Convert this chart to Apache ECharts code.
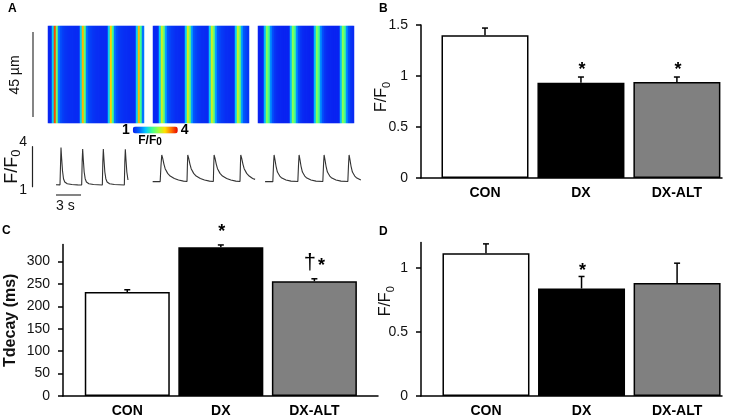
<!DOCTYPE html>
<html>
<head>
<meta charset="utf-8">
<script src="https://cdn.jsdelivr.net/npm/echarts@6/dist/echarts.min.js"></script>
<style>
  html, body { margin: 0; padding: 0; background: #fff; }
  #chart { width: 744px; height: 418px; }
</style>
</head>
<body>
<div id="chart"></div>
<script>
// groups and bar values (mean, SEM, significance marks)
var groups = ['CON', 'DX', 'DX-ALT'];
var barColors = ['#ffffff', '#000000', '#808080'];

var ampB = [1.40, 0.935, 0.94];
var ampBErr = [0.07, 0.055, 0.05];
var ampBSig = ['', '*', '*'];

var decayC = [232, 332, 256];
var decayCErr = [5, 5, 5.5];
var decayCSig = ['', '*', '†*'];

var ampD = [1.117, 0.841, 0.883];
var ampDErr = [0.073, 0.094, 0.156];
var ampDSig = ['', '*', ''];

// line-scan images: F/F0 across time (one value per column)
var scanCon = [1.05, 1.08, 1.9, 3.7, 2.5, 1.55, 1.3, 1.2, 1.15, 1.12, 1.1, 1.1, 1.1, 1.08, 1.08, 1.08,
  1.9, 3.3, 2.4, 1.5, 1.3, 1.2, 1.15, 1.12, 1.1, 1.1, 1.08, 1.08, 1.08, 1.08,
  1.9, 3.2, 2.3, 1.5, 1.3, 1.2, 1.15, 1.12, 1.1, 1.1, 1.08, 1.08, 1.08, 1.08,
  1.9, 3.3, 2.3, 1.5];
var scanDx = [1.05, 1.05, 1.08, 1.9, 2.9, 2.5, 1.7, 1.35, 1.25, 1.18, 1.14, 1.1, 1.1, 1.08, 1.08, 1.08,
  1.9, 3.0, 2.5, 1.7, 1.35, 1.25, 1.18, 1.14, 1.1, 1.1, 1.08, 1.08,
  1.9, 2.9, 2.5, 1.7, 1.35, 1.25, 1.18, 1.14, 1.1, 1.1, 1.08, 1.08, 1.08,
  1.9, 2.9, 2.5, 1.7, 1.35, 1.25, 1.15];
var scanAlt = [1.03, 1.03, 1.05, 1.8, 2.6, 2.3, 1.6, 1.3, 1.15, 1.08, 1.05, 1.05, 1.03, 1.03, 1.03, 1.03,
  1.8, 2.6, 2.3, 1.6, 1.3, 1.15, 1.08, 1.05, 1.05, 1.03, 1.03, 1.03,
  1.8, 2.6, 2.3, 1.6, 1.3, 1.15, 1.08, 1.05, 1.05, 1.03, 1.03, 1.03, 1.03,
  1.8, 2.6, 2.3, 1.6, 1.3, 1.15, 1.08];

// Ca transients, [time (s), F/F0]
var traceCon = [[0, 1.15], [0.48, 1.14], [0.55, 2.8], [0.6, 3.93], [0.68, 3.1], [0.78, 2.2], [0.9, 1.6], [1.05, 1.35], [1.35, 1.22], [1.9, 1.16], [2.6, 1.14], [3.08, 1.13],
  [3.14, 2.9], [3.2, 3.82], [3.28, 3.0], [3.38, 2.1], [3.5, 1.6], [3.65, 1.35], [3.95, 1.22], [4.5, 1.16], [5.56, 1.13],
  [5.62, 2.9], [5.68, 3.82], [5.76, 3.0], [5.86, 2.1], [5.98, 1.6], [6.13, 1.35], [6.43, 1.22], [7.0, 1.16], [8.2, 1.13],
  [8.26, 2.9], [8.32, 3.8], [8.4, 3.0], [8.5, 2.1], [8.64, 1.5]];
var traceDx = [[11.6, 1.38], [12.5, 1.38], [12.6, 2.6], [12.69, 3.38], [12.8, 3.15], [12.95, 2.7], [13.1, 2.35], [13.4, 2.0], [13.7, 1.8], [14.2, 1.62], [14.7, 1.5], [15.3, 1.42], [15.72, 1.39],
  [15.77, 2.6], [15.81, 3.38], [15.92, 3.15], [16.07, 2.7], [16.22, 2.35], [16.52, 2.0], [16.82, 1.8], [17.32, 1.62], [17.82, 1.5], [18.42, 1.42], [18.88, 1.39],
  [18.93, 2.6], [18.97, 3.38], [19.08, 3.15], [19.23, 2.7], [19.38, 2.35], [19.68, 2.0], [19.98, 1.8], [20.48, 1.62], [20.98, 1.5], [21.58, 1.42], [22.08, 1.39],
  [22.13, 2.6], [22.17, 3.38], [22.28, 3.15], [22.43, 2.7], [22.58, 2.35], [22.88, 2.0], [23.18, 1.8], [23.6, 1.62], [23.89, 1.55]];
var traceAlt = [[25.09, 1.38], [26.02, 1.38], [26.1, 2.6], [26.17, 3.38], [26.27, 3.05], [26.4, 2.55], [26.57, 2.1], [26.85, 1.8], [27.1, 1.65], [27.6, 1.5], [28.2, 1.42], [29.02, 1.39],
  [29.1, 2.6], [29.17, 3.38], [29.27, 3.05], [29.4, 2.55], [29.57, 2.1], [29.85, 1.8], [30.1, 1.65], [30.6, 1.5], [31.2, 1.42], [32.02, 1.39],
  [32.1, 2.6], [32.17, 3.38], [32.27, 3.05], [32.4, 2.55], [32.57, 2.1], [32.85, 1.8], [33.1, 1.65], [33.6, 1.5], [34.2, 1.42], [35.02, 1.39],
  [35.1, 2.6], [35.17, 3.38], [35.27, 3.05], [35.4, 2.55], [35.57, 2.1], [35.85, 1.8], [36.1, 1.65], [36.58, 1.5]];

var FONT = '"Liberation Sans", Arial, Helvetica, sans-serif';
var chart = echarts.init(document.getElementById('chart'));

var subRich = function (big, small) {
  return {
    f: { fontSize: big, fontFamily: FONT, color: '#111' },
    s: { fontSize: small, fontFamily: FONT, color: '#111', verticalAlign: 'bottom', padding: [0, 0, -2, 0] }
  };
};

function barX(gi, min, max, margin) {
  return {
    gridIndex: gi, type: 'value', min: min, max: max,
    splitLine: { show: false },
    axisLine: { show: true, onZero: false, lineStyle: { color: '#000', width: 1.5 } },
    axisTick: { show: false },
    axisLabel: {
      customValues: [0, 1, 2],
      formatter: function (v) { return groups[Math.round(v)]; },
      fontSize: 14, fontWeight: 'bold', color: '#000', fontFamily: FONT, margin: margin
    }
  };
}

function barY(gi, max, ticks, name, nameGap, nameStyle, labelSize, margin) {
  return {
    gridIndex: gi, type: 'value', min: 0, max: max,
    name: name, nameLocation: 'middle', nameRotate: 90, nameGap: nameGap, nameTextStyle: nameStyle,
    nameMoveOverlap: false,
    splitLine: { show: false },
    axisLine: { show: true, onZero: false, lineStyle: { color: '#000', width: 1.5 } },
    axisTick: { show: true, length: 5, customValues: ticks, lineStyle: { color: '#000', width: 1.5 } },
    axisLabel: { customValues: ticks, fontSize: labelSize, color: '#111', fontFamily: FONT, margin: margin }
  };
}

function bars(k, means) {
  return {
    type: 'bar', xAxisIndex: k, yAxisIndex: k, barWidth: k === 1 ? 85 : 87,
    itemStyle: { borderColor: '#000', borderWidth: 1.5 },
    data: means.map(function (m, i) {
      return { value: [i, m], itemStyle: { color: barColors[i] } };
    })
  };
}

function errors(k, means, errs, sigs, gap) {
  return {
    type: 'custom', xAxisIndex: k, yAxisIndex: k, z: 5,
    data: means.map(function (m, i) { return [i, m, m + errs[i]]; }),
    renderItem: function (params, api) {
      var base = api.coord([api.value(0), api.value(1)]);
      var top = api.coord([api.value(0), api.value(2)]);
      var st = { stroke: '#000', lineWidth: 1.5 };
      var kids = [
        { type: 'line', shape: { x1: top[0], y1: base[1], x2: top[0], y2: top[1] }, style: st },
        { type: 'line', shape: { x1: top[0] - 3, y1: top[1], x2: top[0] + 3, y2: top[1] }, style: st }
      ];
      var sig = sigs[params.dataIndex];
      if (sig) {
        kids.push({
          type: 'text', x: top[0], y: top[1] - gap,
          style: {
            text: sig.replace('†', '{d|†}').replace('*', '{a|*}'),
            align: 'center', verticalAlign: 'middle',
            rich: {
              a: { fontSize: 18, fontWeight: 'bold', fontFamily: FONT, fill: '#000', padding: [6, 0, 0, 2] },
              d: { fontSize: 22, fontFamily: FONT, fill: '#000' }
            }
          }
        });
      }
      return { type: 'group', children: kids };
    }
  };
}

function heat(k, row) {
  return {
    type: 'heatmap', xAxisIndex: k, yAxisIndex: k,
    itemStyle: { borderWidth: 0 },
    data: row.map(function (v, i) { return [i, 0, v]; })
  };
}

function heatAxes(n) {
  var cols = [];
  for (var i = 0; i < 48; i++) cols.push(i);
  return {
    x: { gridIndex: n, type: 'category', data: cols, show: false },
    y: { gridIndex: n, type: 'category', data: ['0'], show: false }
  };
}

var h1 = heatAxes(3), h2 = heatAxes(4), h3 = heatAxes(5);

var option = {
  animation: false,
  textStyle: { fontFamily: FONT },
  grid: [
    { left: 421, right: 22, top: 25, bottom: 240 },
    { left: 63, right: 366, top: 244.5, bottom: 20.7 },
    { left: 421, right: 22, top: 242.6, bottom: 21.3 },
    { left: 48, width: 96, top: 26, height: 97 },
    { left: 153, width: 96, top: 26, height: 97 },
    { left: 258, width: 96, top: 26, height: 97 },
    { left: 56, right: 383, top: 146.7, height: 40 }
  ],
  xAxis: [
    barX(0, -0.667, 2.47, 8),
    barX(1, -0.687, 2.68, 8),
    barX(2, -0.68, 2.47, 8),
    h1.x, h2.x, h3.x,
    { gridIndex: 6, type: 'value', min: 0, max: 36.6, show: false }
  ],
  yAxis: [
    barY(0, 1.5, [0, 0.5, 1, 1.5], '{f|F/F}{s|0}', 31, { rich: subRich(16, 11), padding: [0, 0, 0, 9] }, 14, 13),
    barY(1, 338, [0, 50, 100, 150, 200, 250, 300], 'Tdecay (ms)', 44,
      { fontSize: 16, fontWeight: 'bold', color: '#111', fontFamily: FONT }, 14, 13),
    barY(2, 1.2, [0, 0.5, 1], '{f|F/F}{s|0}', 27, { rich: subRich(16, 11), padding: [0, 0, 0, 36] }, 14, 13),
    h1.y, h2.y, h3.y,
    {
      gridIndex: 6, type: 'value', min: 1, max: 4, interval: 3, offset: 24,
      name: '{f|F/F}{s|0}', nameLocation: 'middle', nameRotate: 90, nameGap: 11,
      nameMoveOverlap: false,
      nameTextStyle: { rich: subRich(18, 13) },
      splitLine: { show: false },
      axisLine: { show: true, onZero: false, lineStyle: { color: '#222', width: 1.2 } },
      axisTick: { show: false },
      axisLabel: {
        margin: 5,
        formatter: function (v) { return v === 4 ? '{hi|4}' : '{lo|1}'; },
        rich: {
          hi: { fontSize: 14, color: '#111', padding: [0, 0, 10, 0] },
          lo: { fontSize: 14, color: '#111', padding: [6, 0, 0, 0] }
        }
      }
    }
  ],
  visualMap: {
    type: 'continuous', min: 1, max: 4, seriesIndex: [6, 7, 8],
    orient: 'horizontal', left: 107, top: 108,
    itemWidth: 7, itemHeight: 45, calculable: false,
    text: ['4', '1'], textGap: 3,
    textStyle: { fontSize: 14, fontWeight: 'bold', color: '#000', fontFamily: FONT },
    inRange: { color: ['#0a1ef0', '#0064ff', '#00c8ff', '#40ff90', '#a0ff40', '#ffe000', '#ff7000', '#e80000'] }
  },
  series: [
    bars(0, ampB), bars(1, decayC), bars(2, ampD),
    errors(0, ampB, ampBErr, ampBSig, 10),
    errors(1, decayC, decayCErr, decayCSig, 16),
    errors(2, ampD, ampDErr, ampDSig, 8),
    heat(3, scanCon), heat(4, scanDx), heat(5, scanAlt),
    { type: 'line', xAxisIndex: 6, yAxisIndex: 6, showSymbol: false, data: traceCon, lineStyle: { color: '#333', width: 1.1 } },
    { type: 'line', xAxisIndex: 6, yAxisIndex: 6, showSymbol: false, data: traceDx, lineStyle: { color: '#333', width: 1.1 } },
    { type: 'line', xAxisIndex: 6, yAxisIndex: 6, showSymbol: false, data: traceAlt, lineStyle: { color: '#333', width: 1.1 } }
  ],
  graphic: [
    { type: 'text', left: 8, top: 3, style: { text: 'A', fontSize: 12, fontWeight: 'bold', fill: '#000', fontFamily: FONT } },
    { type: 'text', left: 379, top: 3, style: { text: 'B', fontSize: 12, fontWeight: 'bold', fill: '#000', fontFamily: FONT } },
    { type: 'text', left: 2, top: 225, style: { text: 'C', fontSize: 12, fontWeight: 'bold', fill: '#000', fontFamily: FONT } },
    { type: 'text', left: 379, top: 226, style: { text: 'D', fontSize: 12, fontWeight: 'bold', fill: '#000', fontFamily: FONT } },
    // 45 µm scale bar
    { type: 'line', shape: { x1: 33, y1: 32, x2: 33, y2: 117 }, style: { stroke: '#333', lineWidth: 1.2 } },
    { type: 'text', x: 15, y: 75, rotation: Math.PI / 2, style: { text: '45 µm', fontSize: 14, fill: '#111', fontFamily: FONT, align: 'center', verticalAlign: 'middle' } },
    // colour bar caption
    { type: 'text', x: 150, y: 141, style: { text: '{f|F/F}{s|0}', align: 'center', verticalAlign: 'middle', rich: { f: { fontSize: 12, fontWeight: 'bold', fontFamily: FONT, fill: '#000' }, s: { fontSize: 10, fontWeight: 'bold', fontFamily: FONT, fill: '#000', padding: [3, 0, 0, 0] } } } },
    // 3 s scale bar
    { type: 'line', shape: { x1: 56, y1: 195, x2: 81, y2: 195 }, style: { stroke: '#333', lineWidth: 1.2 } },
    { type: 'text', x: 56, y: 206.5, style: { text: '3 s', fontSize: 14, fill: '#111', fontFamily: FONT, verticalAlign: 'middle' } }
  ]
};

chart.setOption(option);
</script>
</body>
</html>
